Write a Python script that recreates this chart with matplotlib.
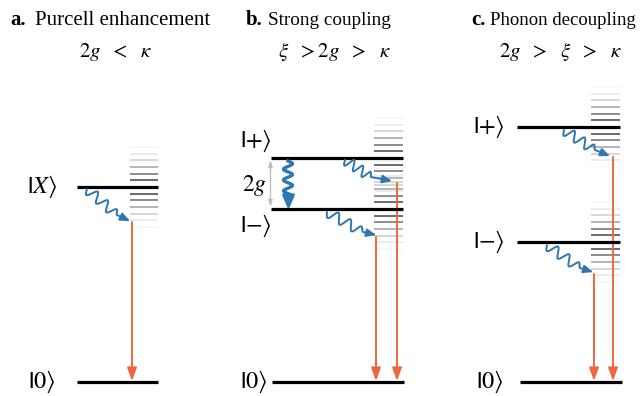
import numpy as np
import matplotlib
matplotlib.use("Agg")
import matplotlib.pyplot as plt

plt.rcParams['mathtext.fontset'] = 'stix'
plt.rcParams['font.family'] = ['Liberation Serif', 'DejaVu Serif']

# ---- data ----
panel_letters = ['a.', 'b.', 'c.']
panel_titles = ['Purcell enhancement', 'Strong coupling', 'Phonon decoupling']
panel_conditions = [r'$2g\ \ <\ \ \kappa$', r'$\xi\ \ >2g\ \ >\ \ \kappa$', r'$2g\ \ >\ \ \xi\ \ >\ \ \kappa$']
levels_a = [187, 382]
labels_a = [r'$\mathbf{|}X\rangle$', r'$\mathbf{|}0\rangle$']
levels_b = [158, 209, 382]
labels_b = [r'$\mathbf{|}{+}\rangle$', r'$\mathbf{|}{-}\rangle$', r'$\mathbf{|}0\rangle$']
levels_c = [127, 242, 382]
labels_c = [r'$\mathbf{|}{+}\rangle$', r'$\mathbf{|}{-}\rangle$', r'$\mathbf{|}0\rangle$']
phonon_steps = [-6, -5, -4, -3, -2, -1, 1, 2, 3, 4, 5, 6]

BLUE = '#2f77b1'
ORANGE = '#ee6741'

fig = plt.figure(figsize=(6.4, 3.96), dpi=100)
ax = fig.add_axes([0, 0, 1, 1])
ax.set_xlim(0, 640)
ax.set_ylim(396, 0)
ax.axis('off')

def level(x0, x1, y):
    ax.plot([x0, x1], [y, y], color='black', lw=2.3, solid_capstyle='butt', zorder=5)

def ladder(x0, x1, y, spacing=6.65):
    for k in phonon_steps:
        a = 0.8 * np.exp(-(k / 3.4) ** 2)
        ax.plot([x0, x1], [y + k * spacing] * 2, color='black', alpha=a, lw=1.1,
                solid_capstyle='butt', zorder=2)

def wavy(S, M, E, n=3.0, amp=5.0, lw=1.4, color=BLUE, head=5):
    S = np.array(S, float); M = np.array(M, float); E = np.array(E, float)
    d = M - S
    L = np.hypot(*d)
    u = d / L
    p = np.array([u[1], -u[0]])
    t = np.linspace(0, 1, 200)
    env = np.ones_like(t)
    env[t > 0.85] = np.cos((t[t > 0.85] - 0.85) / 0.15 * np.pi / 2)
    off = -amp * np.sin(2 * np.pi * n * t) * env
    pts = S[None, :] + t[:, None] * d[None, :] + off[:, None] * p[None, :]
    tail_t = np.linspace(0, 1, 30)[1:]
    ctrl = M + (E - M) * 0.3
    tail = ((1 - tail_t)[:, None] ** 2 * M + 2 * (1 - tail_t)[:, None] * tail_t[:, None] * ctrl
            + tail_t[:, None] ** 2 * E)
    pts = np.vstack([pts, tail])
    ax.plot(pts[:-4, 0], pts[:-4, 1], color=color, lw=lw, solid_capstyle='round', zorder=6)
    ax.annotate('', xy=pts[-1], xytext=pts[-6],
                arrowprops=dict(arrowstyle='-|>,head_length=0.7,head_width=0.3',
                                mutation_scale=head * 1.6, color=color, lw=lw,
                                shrinkA=0, shrinkB=0), zorder=7)

def drop(x, y0, y1):
    ax.annotate('', xy=(x, y1), xytext=(x, y0),
                arrowprops=dict(arrowstyle='-|>,head_length=0.6,head_width=0.22',
                                mutation_scale=13, color=ORANGE, lw=1.4,
                                shrinkA=0, shrinkB=0), zorder=4)

def ket(x, y, s):
    ax.text(x, y, s, fontsize=17.5, ha='right', va='center', zorder=8)

# ---- titles ----
title_x = [(10, 35, 214), (246, 268, 391), (471, 490, 636)]
cond_x = [116, 334, 560]
fig.canvas.draw()
renderer = fig.canvas.get_renderer()
for (xl, xt, xe), let, tit, cx, cond in zip(title_x, panel_letters, panel_titles, cond_x, panel_conditions):
    ax.text(xl, 25, let, fontsize=15, fontweight='bold', ha='left', va='baseline')
    t = ax.text(xt, 25, tit, fontsize=15, ha='left', va='baseline')
    w = t.get_window_extent(renderer).width
    t.set_fontsize(min(15, 15 * (xe - xt) / w))
    ax.text(cx, 57, cond, fontsize=15, ha='center', va='baseline')

# ---- panel a ----
ladder(130, 158, levels_a[0])
level(77, 158, levels_a[0])
level(77, 158, levels_a[1])
ket(57, levels_a[0], labels_a[0])
ket(55, levels_a[1], labels_a[1])
wavy((87, 189), (117, 215), (130, 221))
drop(132, 222, levels_a[1] - 1)

# ---- panel b ----
ladder(374, 403, levels_b[0])
ladder(374, 403, levels_b[1])
level(271, 403, levels_b[0])
level(271, 403, levels_b[1])
level(272, 404, levels_b[2])
ket(272, 141, labels_b[0])
ket(272, 226, labels_b[1])
ket(267, levels_b[2], labels_b[2])
ax.text(254, 185, r'$2g$', fontsize=17, ha='center', va='center')
ax.annotate('', xy=(270.5, 207), xytext=(270.5, 160),
            arrowprops=dict(arrowstyle='<|-|>,head_length=0.5,head_width=0.15',
                            mutation_scale=8, color='#bbbbbb', lw=0.9,
                            shrinkA=0, shrinkB=0))
tt = np.linspace(0, 1, 200)
yy = 161 + tt * 38
xx = 288 + 4.5 * np.sin(2 * np.pi * 3.5 * tt)
ax.plot(xx, yy, color=BLUE, lw=2.4, zorder=6)
ax.annotate('', xy=(288.5, 210), xytext=(288.5, 199),
            arrowprops=dict(arrowstyle='-|>,head_length=0.7,head_width=0.3',
                            mutation_scale=12, color=BLUE, lw=2.0,
                            shrinkA=0, shrinkB=0), zorder=7)
wavy((345, 160), (371, 177), (392, 181))
wavy((327, 212), (363, 232), (376, 235))
drop(397, 183, levels_b[2] - 1)
drop(376, 237, levels_b[2] - 1)

# ---- panel c ----
ladder(591, 620, levels_c[0])
ladder(591, 620, levels_c[1])
level(517, 620, levels_c[0])
level(517, 620, levels_c[1])
level(520, 622, levels_c[2])
ket(505, levels_c[0], labels_c[0])
ket(505, levels_c[1], labels_c[1])
ket(503, levels_c[2], labels_c[2])
wavy((564, 130), (595, 150), (610, 156))
wavy((547, 245), (580, 268), (593, 272))
drop(613, 157, levels_c[2] - 1)
drop(594, 274, levels_c[2] - 1)

fig.savefig('out.png', dpi=100)
